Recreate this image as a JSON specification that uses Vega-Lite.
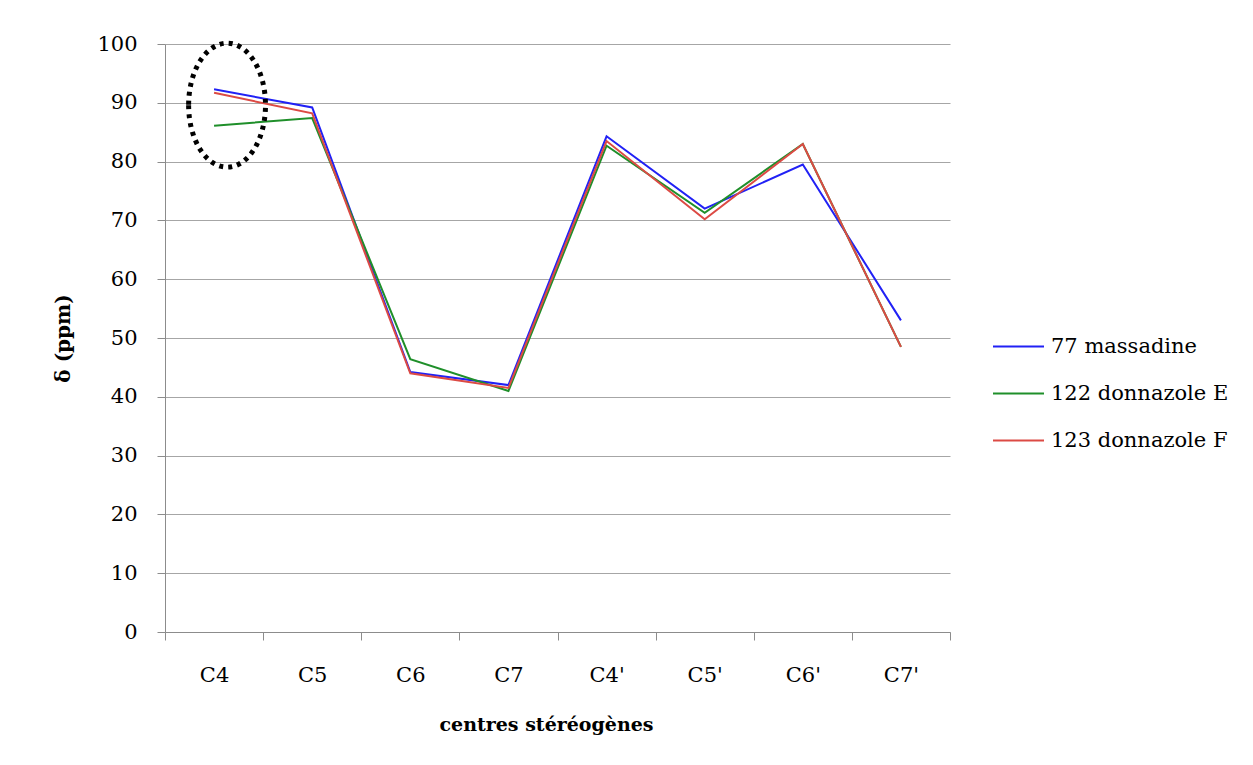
{
  "$schema": "https://vega.github.io/schema/vega-lite/v6.json",
  "width": 785,
  "height": 588,
  "autosize": {"type": "none"},
  "padding": {"left": 165, "top": 44, "right": 303, "bottom": 133},
  "background": "white",
  "config": {
    "view": {"stroke": null},
    "font": "DejaVu Serif"
  },
  "datasets": {
    "series": [
      {"centre": "C4", "serie": "77 massadine", "ppm": 92.3},
      {"centre": "C5", "serie": "77 massadine", "ppm": 89.2},
      {"centre": "C6", "serie": "77 massadine", "ppm": 44.2},
      {"centre": "C7", "serie": "77 massadine", "ppm": 42.0},
      {"centre": "C4'", "serie": "77 massadine", "ppm": 84.3},
      {"centre": "C5'", "serie": "77 massadine", "ppm": 72.0},
      {"centre": "C6'", "serie": "77 massadine", "ppm": 79.5},
      {"centre": "C7'", "serie": "77 massadine", "ppm": 53.0},
      {"centre": "C4", "serie": "122 donnazole E", "ppm": 86.1},
      {"centre": "C5", "serie": "122 donnazole E", "ppm": 87.4},
      {"centre": "C6", "serie": "122 donnazole E", "ppm": 46.4},
      {"centre": "C7", "serie": "122 donnazole E", "ppm": 41.0},
      {"centre": "C4'", "serie": "122 donnazole E", "ppm": 82.7},
      {"centre": "C5'", "serie": "122 donnazole E", "ppm": 71.3},
      {"centre": "C6'", "serie": "122 donnazole E", "ppm": 83.0},
      {"centre": "C7'", "serie": "122 donnazole E", "ppm": 48.5},
      {"centre": "C4", "serie": "123 donnazole F", "ppm": 91.7},
      {"centre": "C5", "serie": "123 donnazole F", "ppm": 88.2},
      {"centre": "C6", "serie": "123 donnazole F", "ppm": 44.0},
      {"centre": "C7", "serie": "123 donnazole F", "ppm": 41.5},
      {"centre": "C4'", "serie": "123 donnazole F", "ppm": 83.5},
      {"centre": "C5'", "serie": "123 donnazole F", "ppm": 70.2},
      {"centre": "C6'", "serie": "123 donnazole F", "ppm": 83.0},
      {"centre": "C7'", "serie": "123 donnazole F", "ppm": 48.5}
    ],
    "highlight": [
      {"centre": "C4", "ppm": 89.6}
    ]
  },
  "layer": [
    {
      "data": {"name": "series"},
      "mark": {"type": "line", "strokeWidth": 2},
      "encoding": {
        "x": {
          "field": "centre",
          "type": "nominal",
          "sort": ["C4", "C5", "C6", "C7", "C4'", "C5'", "C6'", "C7'"],
          "scale": {"type": "band", "paddingInner": 0, "paddingOuter": 0},
          "axis": {
            "title": "centres stéréogènes",
            "titleFont": "DejaVu Serif",
            "titleFontSize": 19,
            "titleFontWeight": "bold",
            "titleColor": "#000",
            "titlePadding": 30,
            "titleX": 381,
            "labelFont": "DejaVu Serif",
            "labelFontSize": 21,
            "labelColor": "#000",
            "labelPadding": 24,
            "labelAngle": 0,
            "tickBand": "extent",
            "tickSize": 8,
            "tickColor": "#8c8c8c",
            "domainColor": "#8c8c8c",
            "grid": false
          }
        },
        "y": {
          "field": "ppm",
          "type": "quantitative",
          "scale": {"domain": [0, 100], "nice": false},
          "axis": {
            "title": "δ (ppm)",
            "titleFont": "DejaVu Serif",
            "titleFontSize": 20,
            "titleFontWeight": "bold",
            "titleColor": "#000",
            "titlePadding": 23,
            "values": [0, 10, 20, 30, 40, 50, 60, 70, 80, 90, 100],
            "labelFont": "DejaVu Serif",
            "labelFontSize": 21,
            "labelColor": "#000",
            "labelPadding": 20,
            "tickSize": 8,
            "tickColor": "#8c8c8c",
            "domainColor": "#8c8c8c",
            "grid": true,
            "gridColor": "#a6a6a6",
            "gridWidth": 1.2
          }
        },
        "color": {
          "field": "serie",
          "type": "nominal",
          "scale": {
            "domain": ["77 massadine", "122 donnazole E", "123 donnazole F"],
            "range": ["#2121f5", "#1f8f2a", "#dc4a44"]
          },
          "legend": {
            "title": null,
            "orient": "none",
            "legendX": 827,
            "legendY": 276,
            "padding": 0,
            "symbolType": "stroke",
            "symbolSize": 2601,
            "symbolStrokeWidth": 2,
            "labelFont": "DejaVu Serif",
            "labelFontSize": 21,
            "labelColor": "#000",
            "labelOffset": 6,
            "labelLimit": 300,
            "rowPadding": 10
          }
        }
      }
    },
    {
      "data": {"name": "highlight"},
      "mark": {
        "type": "point",
        "shape": "M -0.62,0 A 0.62,1 0 1,0 0.62,0 A 0.62,1 0 1,0 -0.62,0 Z",
        "size": 15376,
        "filled": false,
        "stroke": "#000",
        "strokeWidth": 5,
        "strokeDash": [4, 5],
        "opacity": 1,
        "xOffset": 13
      },
      "encoding": {
        "x": {"field": "centre", "type": "nominal", "sort": ["C4", "C5", "C6", "C7", "C4'", "C5'", "C6'", "C7'"]},
        "y": {"field": "ppm", "type": "quantitative"}
      }
    }
  ]
}
